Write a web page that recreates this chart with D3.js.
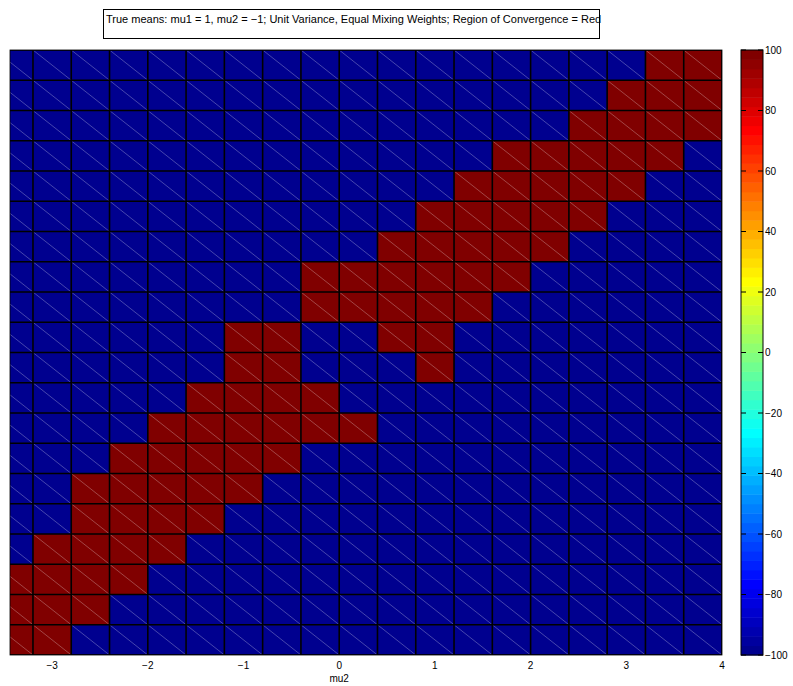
<!DOCTYPE html>
<html>
<head>
<meta charset="utf-8">
<script src="https://cdnjs.cloudflare.com/ajax/libs/d3/7.8.5/d3.min.js"></script>
<style>
  body { margin: 0; background: #fff; }
  text { font-family: "Liberation Sans", Arial, Helvetica, sans-serif; fill: #000; }
</style>
</head>
<body>
<script>
// mu2 cell edges (x) - first column is cut by the axis limit
const mu2Edges = [-3.6, -3.2, -2.8, -2.4, -2.0, -1.6, -1.2, -0.8, -0.4, 0.0, 0.4, 0.8, 1.2, 1.6, 2.0, 2.4, 2.8, 3.2, 3.6, 4.0];
const xTicks = [-3, -2, -1, 0, 1, 2, 3, 4];
const cbarTicks = [-100, -80, -60, -40, -20, 0, 20, 40, 60, 80, 100];

// 1 = converged (red, +100), 0 = not converged (blue, -100); rows listed top to bottom
const converged = [
  [0,0,0,0,0,0,0,0,0,0,0,0,0,0,0,0,0,1,1],
  [0,0,0,0,0,0,0,0,0,0,0,0,0,0,0,0,1,1,1],
  [0,0,0,0,0,0,0,0,0,0,0,0,0,0,0,1,1,1,1],
  [0,0,0,0,0,0,0,0,0,0,0,0,0,1,1,1,1,1,0],
  [0,0,0,0,0,0,0,0,0,0,0,0,1,1,1,1,1,0,0],
  [0,0,0,0,0,0,0,0,0,0,0,1,1,1,1,1,0,0,0],
  [0,0,0,0,0,0,0,0,0,0,1,1,1,1,1,0,0,0,0],
  [0,0,0,0,0,0,0,0,1,1,1,1,1,1,0,0,0,0,0],
  [0,0,0,0,0,0,0,0,1,1,1,1,1,0,0,0,0,0,0],
  [0,0,0,0,0,0,1,1,0,0,1,1,0,0,0,0,0,0,0],
  [0,0,0,0,0,0,1,1,0,0,0,1,0,0,0,0,0,0,0],
  [0,0,0,0,0,1,1,1,1,0,0,0,0,0,0,0,0,0,0],
  [0,0,0,0,1,1,1,1,1,1,0,0,0,0,0,0,0,0,0],
  [0,0,0,1,1,1,1,1,0,0,0,0,0,0,0,0,0,0,0],
  [0,0,1,1,1,1,1,0,0,0,0,0,0,0,0,0,0,0,0],
  [0,0,1,1,1,1,0,0,0,0,0,0,0,0,0,0,0,0,0],
  [0,1,1,1,1,0,0,0,0,0,0,0,0,0,0,0,0,0,0],
  [1,1,1,1,0,0,0,0,0,0,0,0,0,0,0,0,0,0,0],
  [1,1,1,0,0,0,0,0,0,0,0,0,0,0,0,0,0,0,0],
  [1,1,0,0,0,0,0,0,0,0,0,0,0,0,0,0,0,0,0]
];
const zHigh = 100, zLow = -100;

const w = 793, h = 686;
const plotLeft = 10, plotRight = 722, plotTop = 50, plotBottom = 655;

// MATLAB jet(64)
const nColors = 64;
const clamp = (v) => Math.max(0, Math.min(1, v));
const jet = d3.range(1, nColors + 1).map((k) => {
  const t = k / nColors;
  return d3.rgb(
    255 * clamp(1.5 - Math.abs(4 * t - 3)),
    255 * clamp(1.5 - Math.abs(4 * t - 2)),
    255 * clamp(1.5 - Math.abs(4 * t - 1))
  ).formatHex();
});
const colorScale = d3.scaleQuantize().domain([zLow, zHigh]).range(jet);

const xScale = d3.scaleLinear().domain([-3.44, 4]).range([plotLeft, plotRight]);
const yScale = d3.scaleLinear().domain([0, converged.length]).range([plotTop, plotBottom]);

const svg = d3.select("body").append("svg").attr("width", w).attr("height", h);

svg.append("clipPath").attr("id", "plot-clip")
  .append("rect").attr("x", plotLeft).attr("y", plotTop)
  .attr("width", plotRight - plotLeft).attr("height", plotBottom - plotTop);

const cells = [];
converged.forEach((row, r) => {
  row.forEach((f, c) => {
    cells.push({ r, c, z: f ? zHigh : zLow });
  });
});

const plot = svg.append("g").attr("clip-path", "url(#plot-clip)");

plot.selectAll("rect.cell")
  .data(cells)
  .enter()
  .append("rect")
  .attr("class", "cell")
  .attr("x", (d) => xScale(mu2Edges[d.c]))
  .attr("y", (d) => yScale(d.r))
  .attr("width", (d) => xScale(mu2Edges[d.c + 1]) - xScale(mu2Edges[d.c]))
  .attr("height", (d) => yScale(d.r + 1) - yScale(d.r))
  .attr("fill", (d) => colorScale(d.z));

// triangle diagonals of the surface mesh
plot.selectAll("line.diag")
  .data(cells)
  .enter()
  .append("line")
  .attr("class", "diag")
  .attr("x1", (d) => xScale(mu2Edges[d.c]))
  .attr("y1", (d) => yScale(d.r))
  .attr("x2", (d) => xScale(mu2Edges[d.c + 1]))
  .attr("y2", (d) => yScale(d.r + 1))
  .attr("stroke", "#fff")
  .attr("stroke-opacity", 0.35)
  .attr("stroke-width", 0.8);

// cell edges
plot.selectAll("line.vgrid")
  .data(mu2Edges)
  .enter()
  .append("line")
  .attr("class", "vgrid")
  .attr("x1", (d) => xScale(d)).attr("x2", (d) => xScale(d))
  .attr("y1", plotTop).attr("y2", plotBottom)
  .attr("stroke", "#000").attr("stroke-width", 1.6);

plot.selectAll("line.hgrid")
  .data(d3.range(converged.length + 1))
  .enter()
  .append("line")
  .attr("class", "hgrid")
  .attr("x1", plotLeft).attr("x2", plotRight)
  .attr("y1", (d) => yScale(d)).attr("y2", (d) => yScale(d))
  .attr("stroke", "#000").attr("stroke-width", 1.4);

svg.append("rect")
  .attr("x", plotLeft).attr("y", plotTop)
  .attr("width", plotRight - plotLeft).attr("height", plotBottom - plotTop)
  .attr("fill", "none").attr("stroke", "#000").attr("stroke-width", 0.8);

// x axis labels (ticks hidden under the surface)
svg.append("g")
  .attr("id", "x-axis")
  .selectAll("text")
  .data(xTicks)
  .enter()
  .append("text")
  .attr("x", (d) => xScale(d))
  .attr("y", 669)
  .attr("text-anchor", "middle")
  .attr("font-size", "10px")
  .text((d) => (d < 0 ? "\u2212" + Math.abs(d) : d));

svg.append("text")
  .attr("x", xScale(0))
  .attr("y", 682)
  .attr("text-anchor", "middle")
  .attr("font-size", "10px")
  .text("mu2");

// colorbar
const cbLeft = 741, cbRight = 763;
const cbScale = d3.scaleLinear().domain([zLow, zHigh]).range([plotBottom, plotTop]);
const step = (zHigh - zLow) / nColors;
const cbar = svg.append("g").attr("id", "colorbar");

cbar.selectAll("rect.band")
  .data(jet)
  .enter()
  .append("rect")
  .attr("class", "band")
  .attr("x", cbLeft)
  .attr("width", cbRight - cbLeft)
  .attr("y", (d, i) => cbScale(zLow + (i + 1) * step))
  .attr("height", (d, i) => cbScale(zLow + i * step) - cbScale(zLow + (i + 1) * step) + 0.5)
  .attr("fill", (d) => d);

cbar.append("rect")
  .attr("x", cbLeft).attr("y", plotTop)
  .attr("width", cbRight - cbLeft).attr("height", plotBottom - plotTop)
  .attr("fill", "none").attr("stroke", "#000").attr("stroke-width", 1);

cbar.selectAll("line.tl")
  .data(cbarTicks)
  .enter()
  .append("line")
  .attr("class", "tl")
  .attr("x1", cbLeft).attr("x2", cbLeft + 5)
  .attr("y1", (d) => cbScale(d)).attr("y2", (d) => cbScale(d))
  .attr("stroke", "#000").attr("stroke-width", 1);

cbar.selectAll("line.tr")
  .data(cbarTicks)
  .enter()
  .append("line")
  .attr("class", "tr")
  .attr("x1", cbRight - 5).attr("x2", cbRight)
  .attr("y1", (d) => cbScale(d)).attr("y2", (d) => cbScale(d))
  .attr("stroke", "#000").attr("stroke-width", 1);

cbar.selectAll("text")
  .data(cbarTicks)
  .enter()
  .append("text")
  .attr("x", cbRight + 2)
  .attr("y", (d) => cbScale(d) + 3.5)
  .attr("font-size", "10px")
  .text((d) => (d < 0 ? "\u2212" + Math.abs(d) : d));

// annotation box
svg.append("rect")
  .attr("x", 103.5).attr("y", 9.5)
  .attr("width", 496).attr("height", 29)
  .attr("fill", "#fff").attr("stroke", "#000").attr("stroke-width", 1);

const title = svg.append("text")
  .attr("x", 106)
  .attr("y", 23)
  .attr("font-size", "10px")
  .text("True means: mu1 = 1, mu2 = \u22121; Unit Variance, Equal Mixing Weights; Region of Convergence = Red");
const tw = title.node().getComputedTextLength();
title.attr("font-size", (10 * 496 / tw).toFixed(2) + "px");
</script>
</body>
</html>
